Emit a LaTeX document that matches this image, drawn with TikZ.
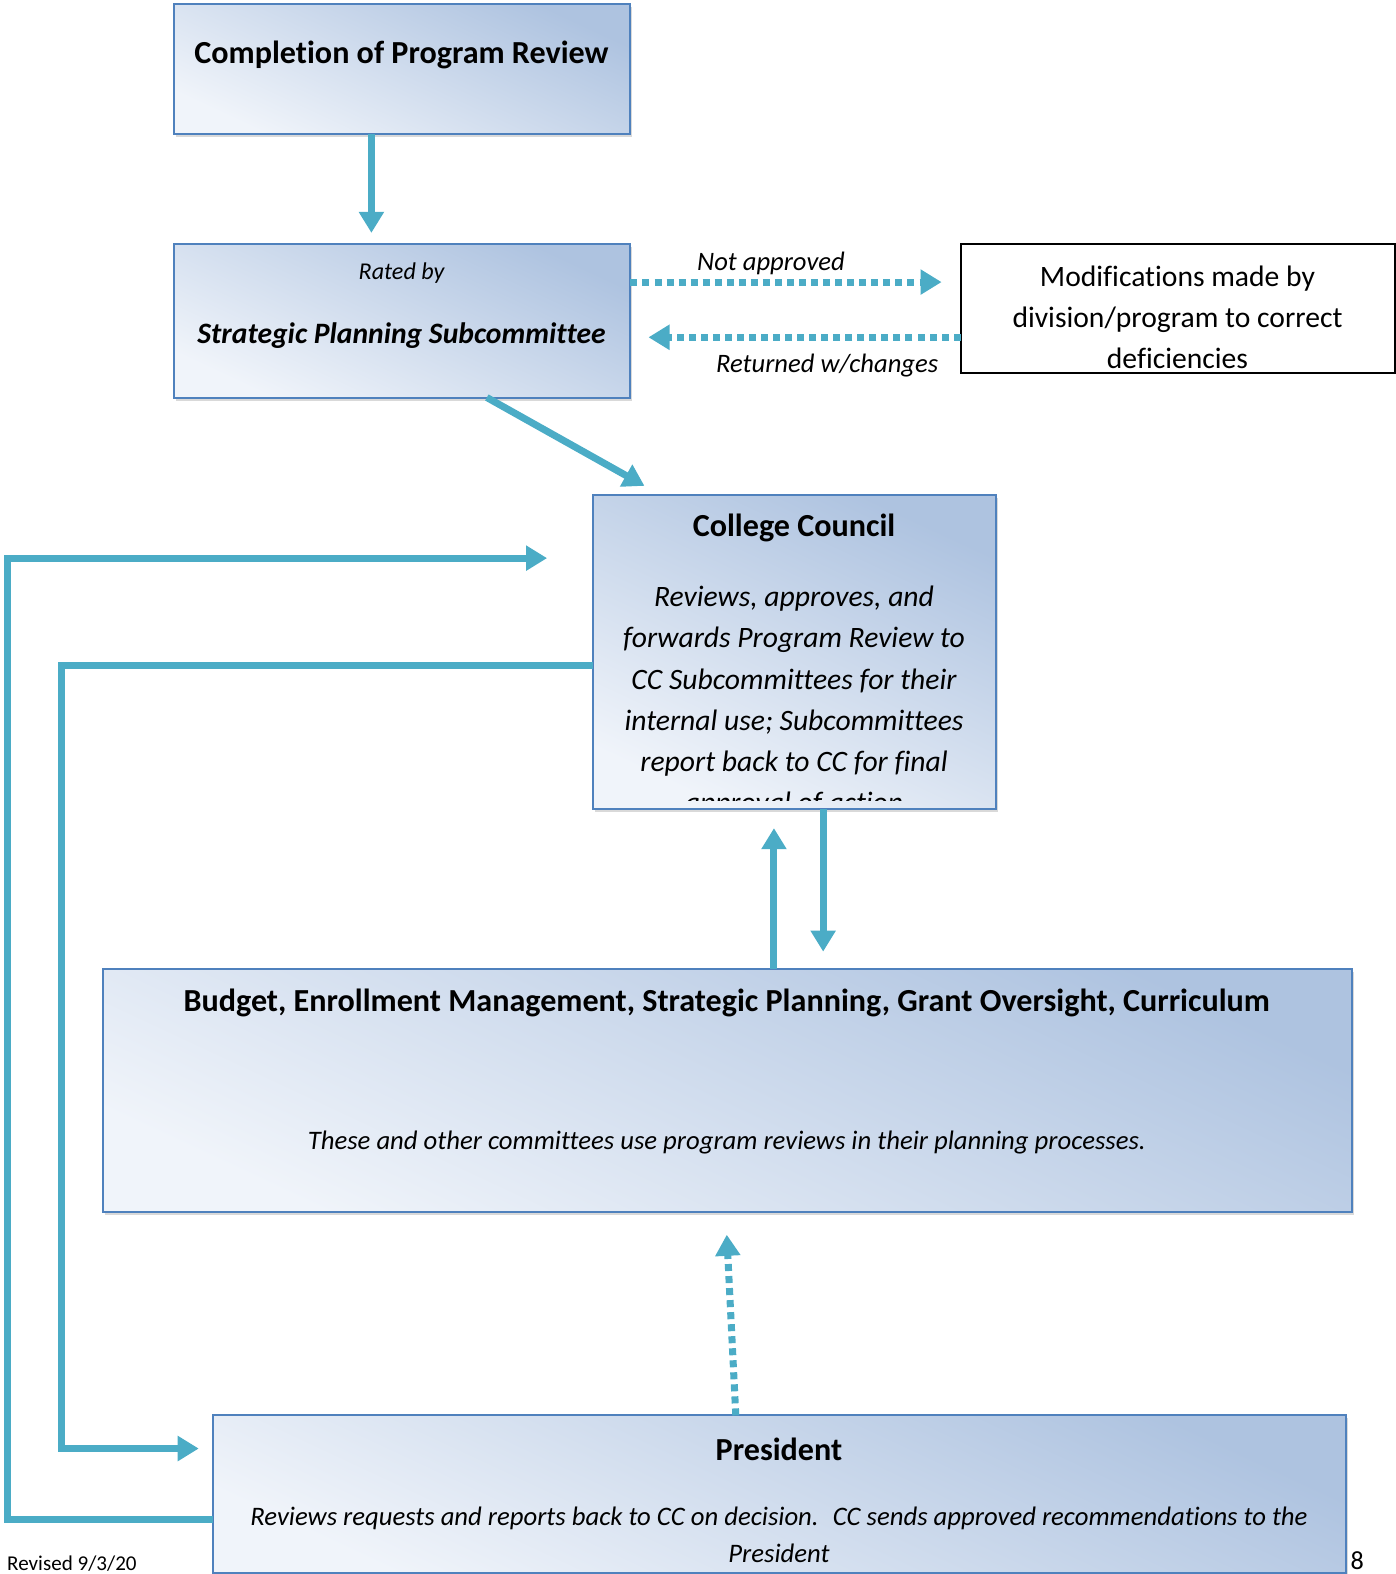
\documentclass[tikz,border=0pt]{standalone}
\usepackage{fontspec}
\setmainfont{Carlito}[Ligatures=NoCommon]
\usetikzlibrary{arrows.meta,shadows}
\definecolor{boxdark}{RGB}{174,195,224}
\definecolor{boxlight}{RGB}{240,244,250}
\definecolor{boxedge}{RGB}{79,129,189}
\definecolor{arrowc}{RGB}{75,172,198}
\tikzset{
  bluebox/.style={draw=boxedge, line width=2pt, inner sep=0pt, outer sep=0pt,
    top color=boxdark, bottom color=boxlight, shading angle=-25,
    drop shadow={shadow xshift=2pt, shadow yshift=-3pt, opacity=0.3, fill=gray}},
  plainbox/.style={draw=black, line width=2pt, fill=white, inner sep=0pt, outer sep=0pt},
  arr/.style={draw=arrowc, line width=7pt, line join=miter, -{Triangle[width=24pt,length=21pt]}},
  dotarr/.style={arr, dash pattern=on 7pt off 5pt},
  txt/.style={inner sep=0pt, align=center},
  fb/.style={font=\fontsize{32}{38}\selectfont\bfseries},
  fi/.style={font=\fontsize{29.5}{41}\selectfont\itshape},
}
\begin{document}
\begin{tikzpicture}[x=1pt,y=-1pt]
\useasboundingbox (0,0) rectangle (1390,1568);
% boxes
\node[bluebox, minimum width=455pt, minimum height=129pt] (b1) at (400.5,68.5) {};
\node[bluebox, minimum width=455pt, minimum height=153pt] (b2) at (400.5,319.5) {};
\node[plainbox, minimum width=433pt, minimum height=129pt] (mod) at (1173.5,307.5) {};
\node[bluebox, minimum width=401pt, minimum height=313pt] (cc) at (791.5,649.5) {};
\node[bluebox, minimum width=1244pt, minimum height=242pt] (com) at (725,1086) {};
\node[bluebox, minimum width=1129pt, minimum height=157pt] (pres) at (776.5,1488.5) {};

% texts
\node[txt, fb] (t1) at (400,55) {Completion of Program Review};
\node[txt, font=\fontsize{24}{28}\selectfont\itshape] (t2a) at (400,272) {Rated by};
\node[txt, font=\fontsize{29.5}{36}\selectfont\bfseries\itshape] (t2b) at (400,334) {Strategic Planning Subcommittee};
\node[txt, font=\fontsize{29.5}{41}\selectfont] (tmod) at (1173,316) {Modifications made by\\division/program to correct\\deficiencies};
\node[txt, font=\fontsize{26.5}{30}\selectfont\itshape] (lna) at (768,262) {Not approved};
\node[txt, font=\fontsize{26.5}{30}\selectfont\itshape] (lret) at (824,364) {Returned w/changes};
\node[txt, fb] (tcc) at (791,526) {College Council};
\begin{scope}
\clip (592,494) rectangle (991,797);
\node[txt, fi] (tcc2) at (791,699) {Reviews, approves, and\\forwards Program Review to\\CC Subcommittees for their\\internal use; Subcommittees\\report back to CC for final\\approval of action};
\end{scope}
\node[txt, fb] (tcom) at (724,999) {Budget, Enrollment Management, Strategic Planning, Grant Oversight, Curriculum};
\node[txt, font=\fontsize{26.6}{32}\selectfont\itshape] (tcom2) at (724,1138) {These and other committees use program reviews in their planning processes.};
\node[txt, fb] (tpres) at (776,1444) {President};
\node[txt, font=\fontsize{26.6}{37}\selectfont\itshape] (tpres2) at (776,1529) {Reviews requests and reports back to CC on decision.~ CC sends approved recommendations to the\\President};
\node[inner sep=0pt, anchor=west, font=\fontsize{21}{25}\selectfont] (rev) at (7,1558) {Revised 9/3/20};
\node[inner sep=0pt, font=\fontsize{26}{30}\selectfont] (pg) at (1352,1555) {8};

% connectors
\draw[arr] ([xshift=-30.5pt]b1.south) -- ([xshift=-30.5pt,yshift=11pt]b2.north);
\draw[dotarr] ([yshift=38.5pt]b2.east) -- ([xshift=-19pt,yshift=26.5pt]mod.west);
\draw[dotarr] ([yshift=-28.5pt]mod.west) -- ([xshift=18pt,yshift=-16.5pt]b2.east);
\draw[arr] ([xshift=84.5pt]b2.south) -- ([xshift=-149.5pt,yshift=9pt]cc.north);
\draw[arr] ([xshift=46pt]com.north) -- ([xshift=-20.5pt,yshift=-19pt]cc.south);
\draw[arr] ([xshift=28.5pt]cc.south) -- ([xshift=95pt,yshift=17pt]com.north);
\draw[dotarr] ([xshift=-43.5pt]pres.north) -- ([xshift=-1pt,yshift=-23pt]com.south);
\coordinate (L1) at (7,556);
\draw[arr] ([yshift=-25.5pt]pres.west) -| (L1) -- ([xshift=-46pt,yshift=93.5pt]cc.west);
\coordinate (L2) at (61,663);
\draw[arr] ([yshift=-13.5pt]cc.west) -- (L2) |- ([xshift=-14pt,yshift=45.5pt]pres.west);
\end{tikzpicture}
\end{document}
